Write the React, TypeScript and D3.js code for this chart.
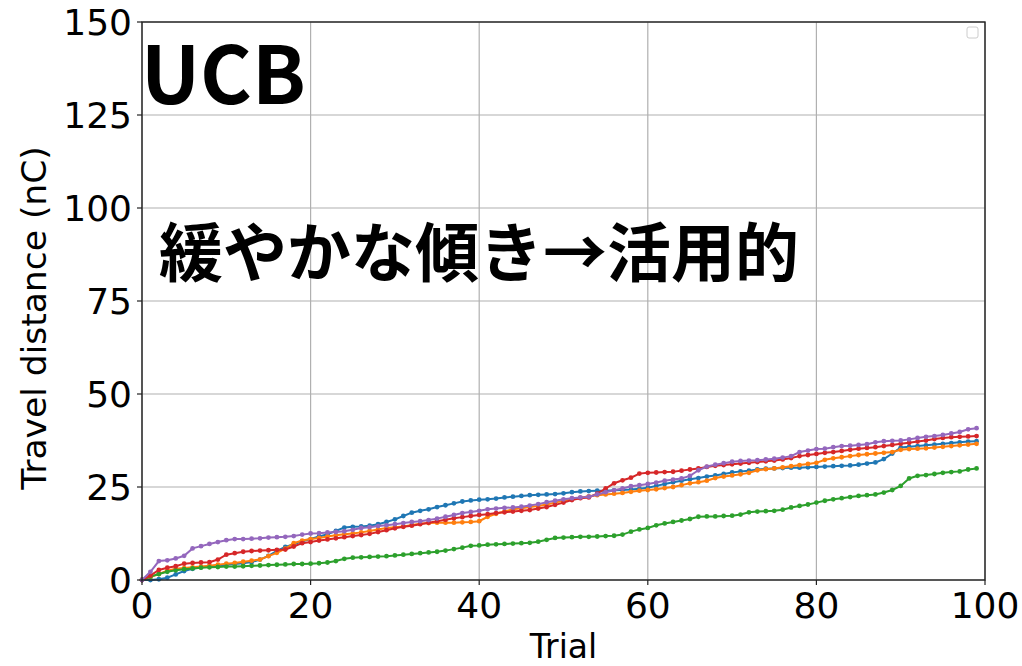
import React from "react";
import * as d3 from "d3";

// Cumulative travel distance per trial for five runs of the UCB policy.
const blueRun = [
  0, 0, 0.2, 0.6, 1.5, 2.4, 3.0, 3.4, 3.7, 3.9,
  4.1, 4.3, 4.5, 4.8, 5.5, 6.5, 7.8, 8.9, 9.6, 10.4,
  11.0, 11.7, 12.3, 13.2, 14.1, 14.3, 14.4, 14.6, 15.0, 15.6,
  16.3, 17.2, 18.1, 18.6, 19.0, 19.6, 20.1, 20.6, 21.1, 21.4,
  21.6, 21.7, 21.9, 22.2, 22.4, 22.6, 22.8, 22.9, 23.0, 23.1,
  23.3, 23.6, 23.8, 23.9, 24.0, 24.0, 24.1, 24.2, 24.3, 24.5,
  24.8, 25.3, 25.8, 26.3, 26.7, 27.1, 27.4, 27.8, 28.1, 28.5,
  28.9, 29.2, 29.4, 29.7, 29.9, 30.0, 30.1, 30.2, 30.2, 30.3,
  30.4, 30.5, 30.6, 30.7, 30.8, 31.0, 31.3, 31.6, 32.5, 34.0,
  35.6, 35.8, 36.0, 36.2, 36.4, 36.6, 36.8, 37.0, 37.2, 37.3,
];
const orangeRun = [
  0, 0.8, 1.6, 2.5, 3.0, 3.2, 3.4, 3.6, 3.8, 4.1,
  4.4, 4.6, 4.9, 5.2, 5.5, 6.4, 7.3, 8.4, 9.9, 10.6,
  11.0, 11.3, 11.7, 12.0, 12.3, 12.5, 12.8, 13.2, 13.6, 14.0,
  14.2, 14.4, 14.8, 15.1, 15.3, 15.4, 15.4, 15.4, 15.5, 15.6,
  15.8, 17.0, 17.8, 18.4, 19.0, 19.3, 19.6, 19.9, 20.3, 20.8,
  21.3, 21.8, 22.1, 22.5, 22.8, 23.0, 23.2, 23.4, 23.7, 24.0,
  24.2, 24.4, 24.7, 25.0, 25.5, 26.0, 26.3, 26.7, 27.4, 27.8,
  28.1, 28.4, 28.8, 29.5, 29.8, 30.0, 30.3, 30.6, 30.9, 31.2,
  31.5, 32.3, 32.7, 33.0, 33.3, 33.6, 33.8, 34.0, 34.2, 34.4,
  35.0, 35.2, 35.3, 35.4, 35.6, 35.8, 36.0, 36.2, 36.4, 36.6,
];
const greenRun = [
  0, 0.9, 1.6, 2.2, 2.6, 2.9, 3.1, 3.3, 3.4, 3.5,
  3.6, 3.6, 3.7, 3.8, 3.9, 4.0, 4.1, 4.2, 4.3, 4.3,
  4.4, 4.5, 4.7, 5.1, 5.7, 6.0, 6.1, 6.2, 6.3, 6.4,
  6.6, 6.8, 7.0, 7.2, 7.4, 7.6, 7.9, 8.3, 8.7, 9.2,
  9.3, 9.5, 9.6, 9.7, 9.8, 9.9, 10.0, 10.3, 10.8, 11.3,
  11.4, 11.5, 11.6, 11.6, 11.7, 11.8, 11.9, 12.2, 13.0, 13.6,
  14.0, 14.7, 15.2, 15.6, 16.0, 16.4, 17.0, 17.1, 17.1, 17.2,
  17.3, 17.6, 18.2, 18.4, 18.5, 18.6, 18.9, 19.5, 19.9, 20.3,
  20.8, 21.3, 21.7, 22.0, 22.3, 22.6, 22.8, 23.0, 23.5, 24.2,
  25.3, 27.3, 28.0, 28.2, 28.5, 28.8, 29.0, 29.2, 29.7, 30.0,
];
const redRun = [
  0, 1.2, 2.7, 3.3, 3.7, 4.4, 4.6, 4.7, 4.8, 5.5,
  6.8, 7.2, 7.6, 7.8, 7.9, 8.0, 8.1, 8.2, 9.0, 9.9,
  10.2, 10.6, 10.9, 11.2, 11.5, 11.8, 12.1, 12.4, 12.9, 13.4,
  13.9, 14.3, 14.6, 15.0, 15.4, 15.8, 16.2, 16.6, 16.9, 17.2,
  17.5, 17.7, 18.0, 18.2, 18.4, 18.6, 18.8, 19.2, 19.6, 20.2,
  20.8, 21.5, 22.0, 22.2, 23.2, 24.6, 26.0, 26.8, 27.5, 28.6,
  28.8, 28.9, 29.0, 29.1, 29.4, 29.7, 30.0, 30.4, 30.7, 30.9,
  31.1, 31.3, 31.5, 31.7, 31.9, 32.1, 32.4, 32.8, 33.3, 33.6,
  33.9, 34.2, 34.4, 34.7, 35.0, 35.3, 35.5, 35.7, 36.0, 36.3,
  36.6, 36.9, 37.2, 37.5, 37.9, 38.2, 38.4, 38.5, 38.6, 38.7,
];
const purpleRun = [
  0, 2.2, 5.1, 5.3, 5.8, 6.5, 8.5, 9.1, 9.7, 10.2,
  10.7, 11.0, 11.0, 11.1, 11.2, 11.4, 11.5, 11.6, 11.8, 12.2,
  12.5, 12.6, 12.8, 12.9, 13.1, 13.5, 14.0, 14.2, 14.5, 14.7,
  15.0, 15.3, 15.6, 15.8, 16.1, 16.5, 17.0, 17.5, 18.0, 18.3,
  18.6, 19.0, 19.2, 19.4, 19.5, 19.7, 20.0, 20.4, 20.9, 21.3,
  21.7, 22.0, 22.2, 22.4, 23.0, 23.6, 24.1, 24.6, 25.2, 25.5,
  25.8, 26.2, 26.7, 27.0, 27.3, 28.0, 29.5, 30.5, 31.0, 31.4,
  31.8, 32.0, 32.1, 32.2, 32.4, 32.6, 32.9, 33.3, 34.4, 34.8,
  35.2, 35.3, 35.7, 36.0, 36.1, 36.3, 36.5, 37.0, 37.3, 37.4,
  37.5, 37.8, 38.2, 38.5, 38.7, 39.0, 39.4, 39.8, 40.5, 40.8,
];

const runs = [blueRun, orangeRun, greenRun, redRun, purpleRun];
const runColors = ["#1f77b4", "#ff7f0e", "#2ca02c", "#d62728", "#9467bd"];

const xTicks = [0, 20, 40, 60, 80, 100];
const yTicks = [0, 25, 50, 75, 100, 125, 150];

const title = "UCB";
const note = "緩やかな傾き→活用的";
const xLabel = "Trial";
const yLabel = "Travel distance (nC)";

const W = 1022;
const H = 666;
const M = { left: 142, right: 985, top: 22, bottom: 580 };

export default function App() {
  const x = d3.scaleLinear().domain([0, 100]).range([M.left, M.right]);
  const y = d3.scaleLinear().domain([0, 150]).range([M.bottom, M.top]);
  const line = d3
    .line<number>()
    .x((_, i) => x(i))
    .y((d) => y(d));

  const tickFont = "DejaVu Sans, sans-serif";
  const cjkFont = "'Noto Sans CJK JP', sans-serif";

  return (
    <svg
      width={W}
      height={H}
      style={{ position: "absolute", left: 0, top: 0, background: "#fff" }}
    >
      <rect x={0} y={0} width={W} height={H} fill="#fff" />
      {/* grid */}
      {xTicks.map((t) => (
        <line
          key={"gx" + t}
          x1={x(t)}
          x2={x(t)}
          y1={M.top}
          y2={M.bottom}
          stroke="#b0b0b0"
          strokeWidth={1.2}
        />
      ))}
      {yTicks.map((t) => (
        <line
          key={"gy" + t}
          x1={M.left}
          x2={M.right}
          y1={y(t)}
          y2={y(t)}
          stroke="#b0b0b0"
          strokeWidth={1.2}
        />
      ))}

      {/* series */}
      {runs.map((run, k) => (
        <g key={"run" + k}>
          <path
            d={line(run) || ""}
            fill="none"
            stroke={runColors[k]}
            strokeWidth={2}
          />
          {run.map((v, i) => (
            <circle
              key={i}
              cx={x(i)}
              cy={y(v)}
              r={2.4}
              fill={runColors[k]}
            />
          ))}
        </g>
      ))}

      {/* frame */}
      <rect
        x={M.left}
        y={M.top}
        width={M.right - M.left}
        height={M.bottom - M.top}
        fill="none"
        stroke="#222"
        strokeWidth={1.4}
      />

      {/* ticks */}
      {xTicks.map((t) => (
        <g key={"tx" + t}>
          <line
            x1={x(t)}
            x2={x(t)}
            y1={M.bottom}
            y2={M.bottom + 5}
            stroke="#222"
            strokeWidth={1.2}
          />
          <text
            x={x(t)}
            y={M.bottom + 38}
            textAnchor="middle"
            fontFamily={tickFont}
            fontSize={36}
            fill="#000"
          >
            {t}
          </text>
        </g>
      ))}
      {yTicks.map((t) => (
        <g key={"ty" + t}>
          <line
            x1={M.left - 5}
            x2={M.left}
            y1={y(t)}
            y2={y(t)}
            stroke="#222"
            strokeWidth={1.2}
          />
          <text
            x={M.left - 10}
            y={y(t) + 13}
            textAnchor="end"
            fontFamily={tickFont}
            fontSize={36}
            fill="#000"
          >
            {t}
          </text>
        </g>
      ))}

      {/* axis labels */}
      <text
        x={(M.left + M.right) / 2}
        y={658}
        textAnchor="middle"
        fontFamily={tickFont}
        fontSize={33}
        fill="#000"
      >
        {xLabel}
      </text>
      <text
        transform="translate(46, 318) rotate(-90)"
        textAnchor="middle"
        fontFamily={tickFont}
        fontSize={34.5}
        fill="#000"
      >
        {yLabel}
      </text>

      {/* empty legend frame */}
      <rect
        x={967}
        y={27}
        width={11}
        height={11}
        rx={2}
        fill="#fff"
        stroke="#cccccc"
        strokeWidth={1}
      />

      {/* annotations */}
      <text
        x={141}
        y={104}
        fontFamily={cjkFont}
        fontWeight={700}
        fontSize={79}
        fill="#000"
      >
        {title}
      </text>
      <text
        x={159}
        y={276}
        fontFamily={cjkFont}
        fontWeight={700}
        fontSize={64}
        fill="#000"
      >
        {note}
      </text>
    </svg>
  );
}
